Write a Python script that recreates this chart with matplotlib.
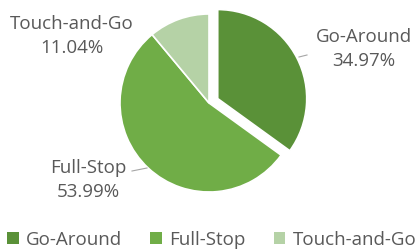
import matplotlib
matplotlib.use("Agg")
import matplotlib.pyplot as plt
from matplotlib.patches import Patch

categories = ["Go-Around", "Full-Stop", "Touch-and-Go"]
values = [34.97, 53.99, 11.04]
labels_pct = ["34.97%", "53.99%", "11.04%"]
colors = ["#5A9138", "#70AD47", "#B5D2A6"]

plt.rcParams['font.family'] = ['Open Sans', 'DejaVu Sans']
W, H = 417, 252
R = 89.0
cx, cy = 209, 103  # pixel coords from top
fig = plt.figure(figsize=(W / 100, H / 100), dpi=100)
ax = fig.add_axes([0, 0, 1, 1])

wedges, _ = ax.pie(values, colors=colors, startangle=90, counterclock=False,
                   explode=[0.11, 0, 0], radius=1.0,
                   wedgeprops=dict(edgecolor='white', linewidth=1.2))
ax.set_xlim(-cx / R, (W - cx) / R)
ax.set_ylim(-(H - cy) / R, cy / R)
ax.set_aspect('auto')
ax.axis('off')

def px(x, y):
    return ((x - cx) / R, (cy - y) / R)

tc = '#595959'
fs = 13.5
ls = 1.4
ax.text(*px(364, 49), f"{categories[0]}\n{labels_pct[0]}", ha='center', va='center',
        color=tc, fontsize=fs, linespacing=ls)
ax.text(*px(88, 180), f"{categories[1]}\n{labels_pct[1]}", ha='center', va='center',
        color=tc, fontsize=fs, linespacing=ls)
ax.text(*px(72, 36), f"{categories[2]}\n{labels_pct[2]}", ha='center', va='center',
        color=tc, fontsize=fs, linespacing=ls)

# leader lines
for (x0, y0), (x1, y1) in [((299, 57), (307, 55)), ((132, 171), (147, 168))]:
    a = px(x0, y0); b = px(x1, y1)
    ax.plot([a[0], b[0]], [a[1], b[1]], color='#A6A6A6', lw=0.8)

handles = [Patch(facecolor=c, edgecolor='none') for c in colors]
fig.legend(handles, categories, loc='center', bbox_to_anchor=(0.508, 1 - 240 / H),
           ncol=3, frameon=False, fontsize=fs, labelcolor=tc,
           handlelength=0.6, handleheight=0.6, handletextpad=0.4, columnspacing=1.5,
           borderpad=0, borderaxespad=0)

fig.savefig("out.png", dpi=100)
